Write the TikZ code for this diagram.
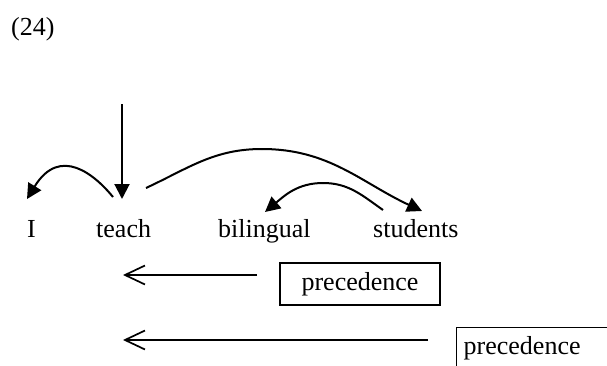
\documentclass[tikz,border=0pt]{standalone}
\usepackage{fontspec}
\setmainfont{Liberation Serif}
\usetikzlibrary{arrows.meta}
\tikzset{
  word/.style={inner sep=0pt, anchor=base west, font=\fontsize{26}{30}\selectfont},
  dep/.style={line width=2pt, -{Triangle[length=15pt,width=15pt]}},
  prec/.style={line width=1.7pt, -{Straight Barb[length=20pt,width=19pt,line width=1.7pt]}},
  precbox/.style={draw, line width=1.4pt, font=\fontsize{26}{30}\selectfont, minimum height=42pt}
}
\begin{document}
\begin{tikzpicture}[x=1pt,y=1pt]
\useasboundingbox (0,0) rectangle (607,365);
% example number
\node[word] (num) at (11,329) {(24)};
% words
\node[word] (I) at (27,128) {I};
\node[word] (teach) at (96,128) {teach};
\node[word] (bil) at (218,128) {bilingual};
\node[word] (stu) at (373,128) {students};
% connector ends
\coordinate (root) at (122,261);
\coordinate (teachTop) at (122,166);
\coordinate (tL) at (113,168);
\coordinate (iTop) at (27,166);
\coordinate (tR) at (146,177);
\coordinate (peakA) at (262,216);
\coordinate (stuTop) at (422,154);
\coordinate (sL) at (383,155);
\coordinate (peakB) at (323,182);
\coordinate (bilTop) at (265,153);
% dependency arrows
\draw[dep] (root) -- (teachTop);
\draw[dep] (tL) .. controls (95,190) and (60,220) .. (iTop);
\draw[line width=2pt] (tR) to[out=25,in=180] (peakA);
\draw[dep] (peakA) to[out=0,in=155] (stuTop);
\draw[line width=2pt] (sL) to[out=145,in=0] (peakB);
\draw[dep] (peakB) to[out=180,in=40] (bilTop);
% precedence
\node[precbox, minimum width=160pt] (box1) at (360,81) {precedence};
\begin{scope}
\clip (0,0) rectangle (607,365);
\node[precbox, anchor=north west, inner xsep=7pt, text width=150pt, align=left] (box2) at (456,38) {precedence};
\end{scope}
\coordinate (p1s) at (257,90);
\coordinate (p1e) at (123,90);
\coordinate (p2s) at (428,25);
\coordinate (p2e) at (123,25);
\draw[prec] (p1s) -- (p1e);
\draw[prec] (p2s) -- (p2e);
\end{tikzpicture}
\end{document}
